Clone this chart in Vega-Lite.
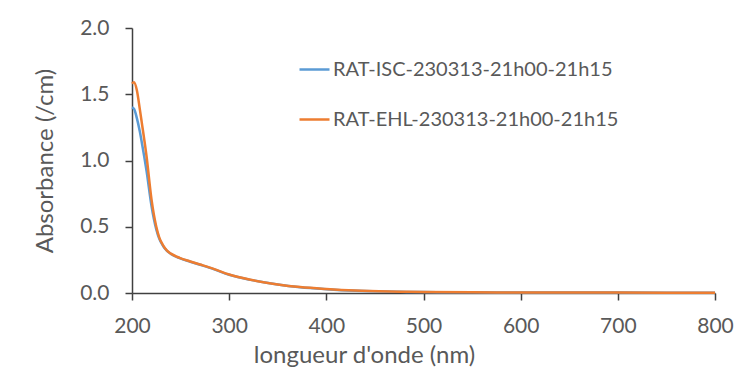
{
  "$schema": "https://vega.github.io/schema/vega-lite/v6.json",
  "width": 583,
  "height": 265,
  "autosize": "none",
  "padding": {"left": 132, "top": 28, "right": 20, "bottom": 78},
  "background": "white",
  "config": {
    "view": {"stroke": null},
    "font": "Lato",
    "axis": {
      "grid": false,
      "domainColor": "#404040",
      "domainWidth": 1.5,
      "tickColor": "#404040",
      "tickWidth": 1.5,
      "tickSize": 7,
      "labelFont": "Lato",
      "labelFontSize": 21,
      "labelColor": "#595959",
      "titleFont": "Lato",
      "titleFontSize": 24,
      "titleFontWeight": "normal",
      "titleColor": "#595959"
    },
    "legend": {
      "labelFont": "Lato",
      "labelFontSize": 20,
      "labelColor": "#595959",
      "labelLimit": 400
    }
  },
  "data": {
    "values": [
      {"wl": 200, "abs": 1.4, "s": "RAT-ISC-230313-21h00-21h15"},
      {"wl": 202, "abs": 1.39, "s": "RAT-ISC-230313-21h00-21h15"},
      {"wl": 205, "abs": 1.32, "s": "RAT-ISC-230313-21h00-21h15"},
      {"wl": 208, "abs": 1.22, "s": "RAT-ISC-230313-21h00-21h15"},
      {"wl": 210, "abs": 1.14, "s": "RAT-ISC-230313-21h00-21h15"},
      {"wl": 215, "abs": 0.92, "s": "RAT-ISC-230313-21h00-21h15"},
      {"wl": 220, "abs": 0.66, "s": "RAT-ISC-230313-21h00-21h15"},
      {"wl": 225, "abs": 0.48, "s": "RAT-ISC-230313-21h00-21h15"},
      {"wl": 228, "abs": 0.41, "s": "RAT-ISC-230313-21h00-21h15"},
      {"wl": 232, "abs": 0.355, "s": "RAT-ISC-230313-21h00-21h15"},
      {"wl": 236, "abs": 0.318, "s": "RAT-ISC-230313-21h00-21h15"},
      {"wl": 240, "abs": 0.295, "s": "RAT-ISC-230313-21h00-21h15"},
      {"wl": 249, "abs": 0.263, "s": "RAT-ISC-230313-21h00-21h15"},
      {"wl": 260, "abs": 0.236, "s": "RAT-ISC-230313-21h00-21h15"},
      {"wl": 270, "abs": 0.213, "s": "RAT-ISC-230313-21h00-21h15"},
      {"wl": 284, "abs": 0.18, "s": "RAT-ISC-230313-21h00-21h15"},
      {"wl": 300, "abs": 0.138, "s": "RAT-ISC-230313-21h00-21h15"},
      {"wl": 322, "abs": 0.099, "s": "RAT-ISC-230313-21h00-21h15"},
      {"wl": 350, "abs": 0.064, "s": "RAT-ISC-230313-21h00-21h15"},
      {"wl": 373, "abs": 0.044, "s": "RAT-ISC-230313-21h00-21h15"},
      {"wl": 400, "abs": 0.029, "s": "RAT-ISC-230313-21h00-21h15"},
      {"wl": 430, "abs": 0.017, "s": "RAT-ISC-230313-21h00-21h15"},
      {"wl": 476, "abs": 0.009, "s": "RAT-ISC-230313-21h00-21h15"},
      {"wl": 500, "abs": 0.007, "s": "RAT-ISC-230313-21h00-21h15"},
      {"wl": 550, "abs": 0.005, "s": "RAT-ISC-230313-21h00-21h15"},
      {"wl": 600, "abs": 0.004, "s": "RAT-ISC-230313-21h00-21h15"},
      {"wl": 700, "abs": 0.003, "s": "RAT-ISC-230313-21h00-21h15"},
      {"wl": 800, "abs": 0.002, "s": "RAT-ISC-230313-21h00-21h15"},
      {"wl": 200, "abs": 1.58, "s": "RAT-EHL-230313-21h00-21h15"},
      {"wl": 202, "abs": 1.59, "s": "RAT-EHL-230313-21h00-21h15"},
      {"wl": 205, "abs": 1.53, "s": "RAT-EHL-230313-21h00-21h15"},
      {"wl": 208, "abs": 1.39, "s": "RAT-EHL-230313-21h00-21h15"},
      {"wl": 210, "abs": 1.29, "s": "RAT-EHL-230313-21h00-21h15"},
      {"wl": 215, "abs": 1.03, "s": "RAT-EHL-230313-21h00-21h15"},
      {"wl": 220, "abs": 0.71, "s": "RAT-EHL-230313-21h00-21h15"},
      {"wl": 225, "abs": 0.5, "s": "RAT-EHL-230313-21h00-21h15"},
      {"wl": 228, "abs": 0.42, "s": "RAT-EHL-230313-21h00-21h15"},
      {"wl": 232, "abs": 0.36, "s": "RAT-EHL-230313-21h00-21h15"},
      {"wl": 236, "abs": 0.32, "s": "RAT-EHL-230313-21h00-21h15"},
      {"wl": 240, "abs": 0.297, "s": "RAT-EHL-230313-21h00-21h15"},
      {"wl": 249, "abs": 0.265, "s": "RAT-EHL-230313-21h00-21h15"},
      {"wl": 260, "abs": 0.238, "s": "RAT-EHL-230313-21h00-21h15"},
      {"wl": 270, "abs": 0.215, "s": "RAT-EHL-230313-21h00-21h15"},
      {"wl": 284, "abs": 0.182, "s": "RAT-EHL-230313-21h00-21h15"},
      {"wl": 300, "abs": 0.14, "s": "RAT-EHL-230313-21h00-21h15"},
      {"wl": 322, "abs": 0.1, "s": "RAT-EHL-230313-21h00-21h15"},
      {"wl": 350, "abs": 0.065, "s": "RAT-EHL-230313-21h00-21h15"},
      {"wl": 373, "abs": 0.045, "s": "RAT-EHL-230313-21h00-21h15"},
      {"wl": 400, "abs": 0.03, "s": "RAT-EHL-230313-21h00-21h15"},
      {"wl": 430, "abs": 0.018, "s": "RAT-EHL-230313-21h00-21h15"},
      {"wl": 476, "abs": 0.01, "s": "RAT-EHL-230313-21h00-21h15"},
      {"wl": 500, "abs": 0.007, "s": "RAT-EHL-230313-21h00-21h15"},
      {"wl": 550, "abs": 0.005, "s": "RAT-EHL-230313-21h00-21h15"},
      {"wl": 600, "abs": 0.004, "s": "RAT-EHL-230313-21h00-21h15"},
      {"wl": 700, "abs": 0.003, "s": "RAT-EHL-230313-21h00-21h15"},
      {"wl": 800, "abs": 0.002, "s": "RAT-EHL-230313-21h00-21h15"}
    ]
  },
  "mark": {"type": "line", "interpolate": "monotone", "strokeWidth": 2.5},
  "encoding": {
    "x": {
      "field": "wl",
      "type": "quantitative",
      "scale": {"domain": [200, 800], "nice": false},
      "axis": {"values": [200, 300, 400, 500, 600, 700, 800], "title": "longueur d'onde (nm)", "labelPadding": 15, "titlePadding": 7, "titleX": 232, "labelFlush": false}
    },
    "y": {
      "field": "abs",
      "type": "quantitative",
      "scale": {"domain": [0, 2], "nice": false},
      "axis": {"values": [0, 0.5, 1, 1.5, 2], "format": ".1f", "title": "Absorbance (/cm)", "labelPadding": 16, "titlePadding": 22, "labelFlush": false}
    },
    "color": {
      "field": "s",
      "type": "nominal",
      "scale": {"domain": ["RAT-ISC-230313-21h00-21h15", "RAT-EHL-230313-21h00-21h15"], "range": ["#5B9BD5", "#ED7D31"]},
      "legend": {"title": null, "orient": "none", "legendX": 166, "legendY": 25, "symbolType": "stroke", "symbolSize": 900, "symbolStrokeWidth": 2.5, "rowPadding": 23, "labelOffset": 2}
    }
  }
}
